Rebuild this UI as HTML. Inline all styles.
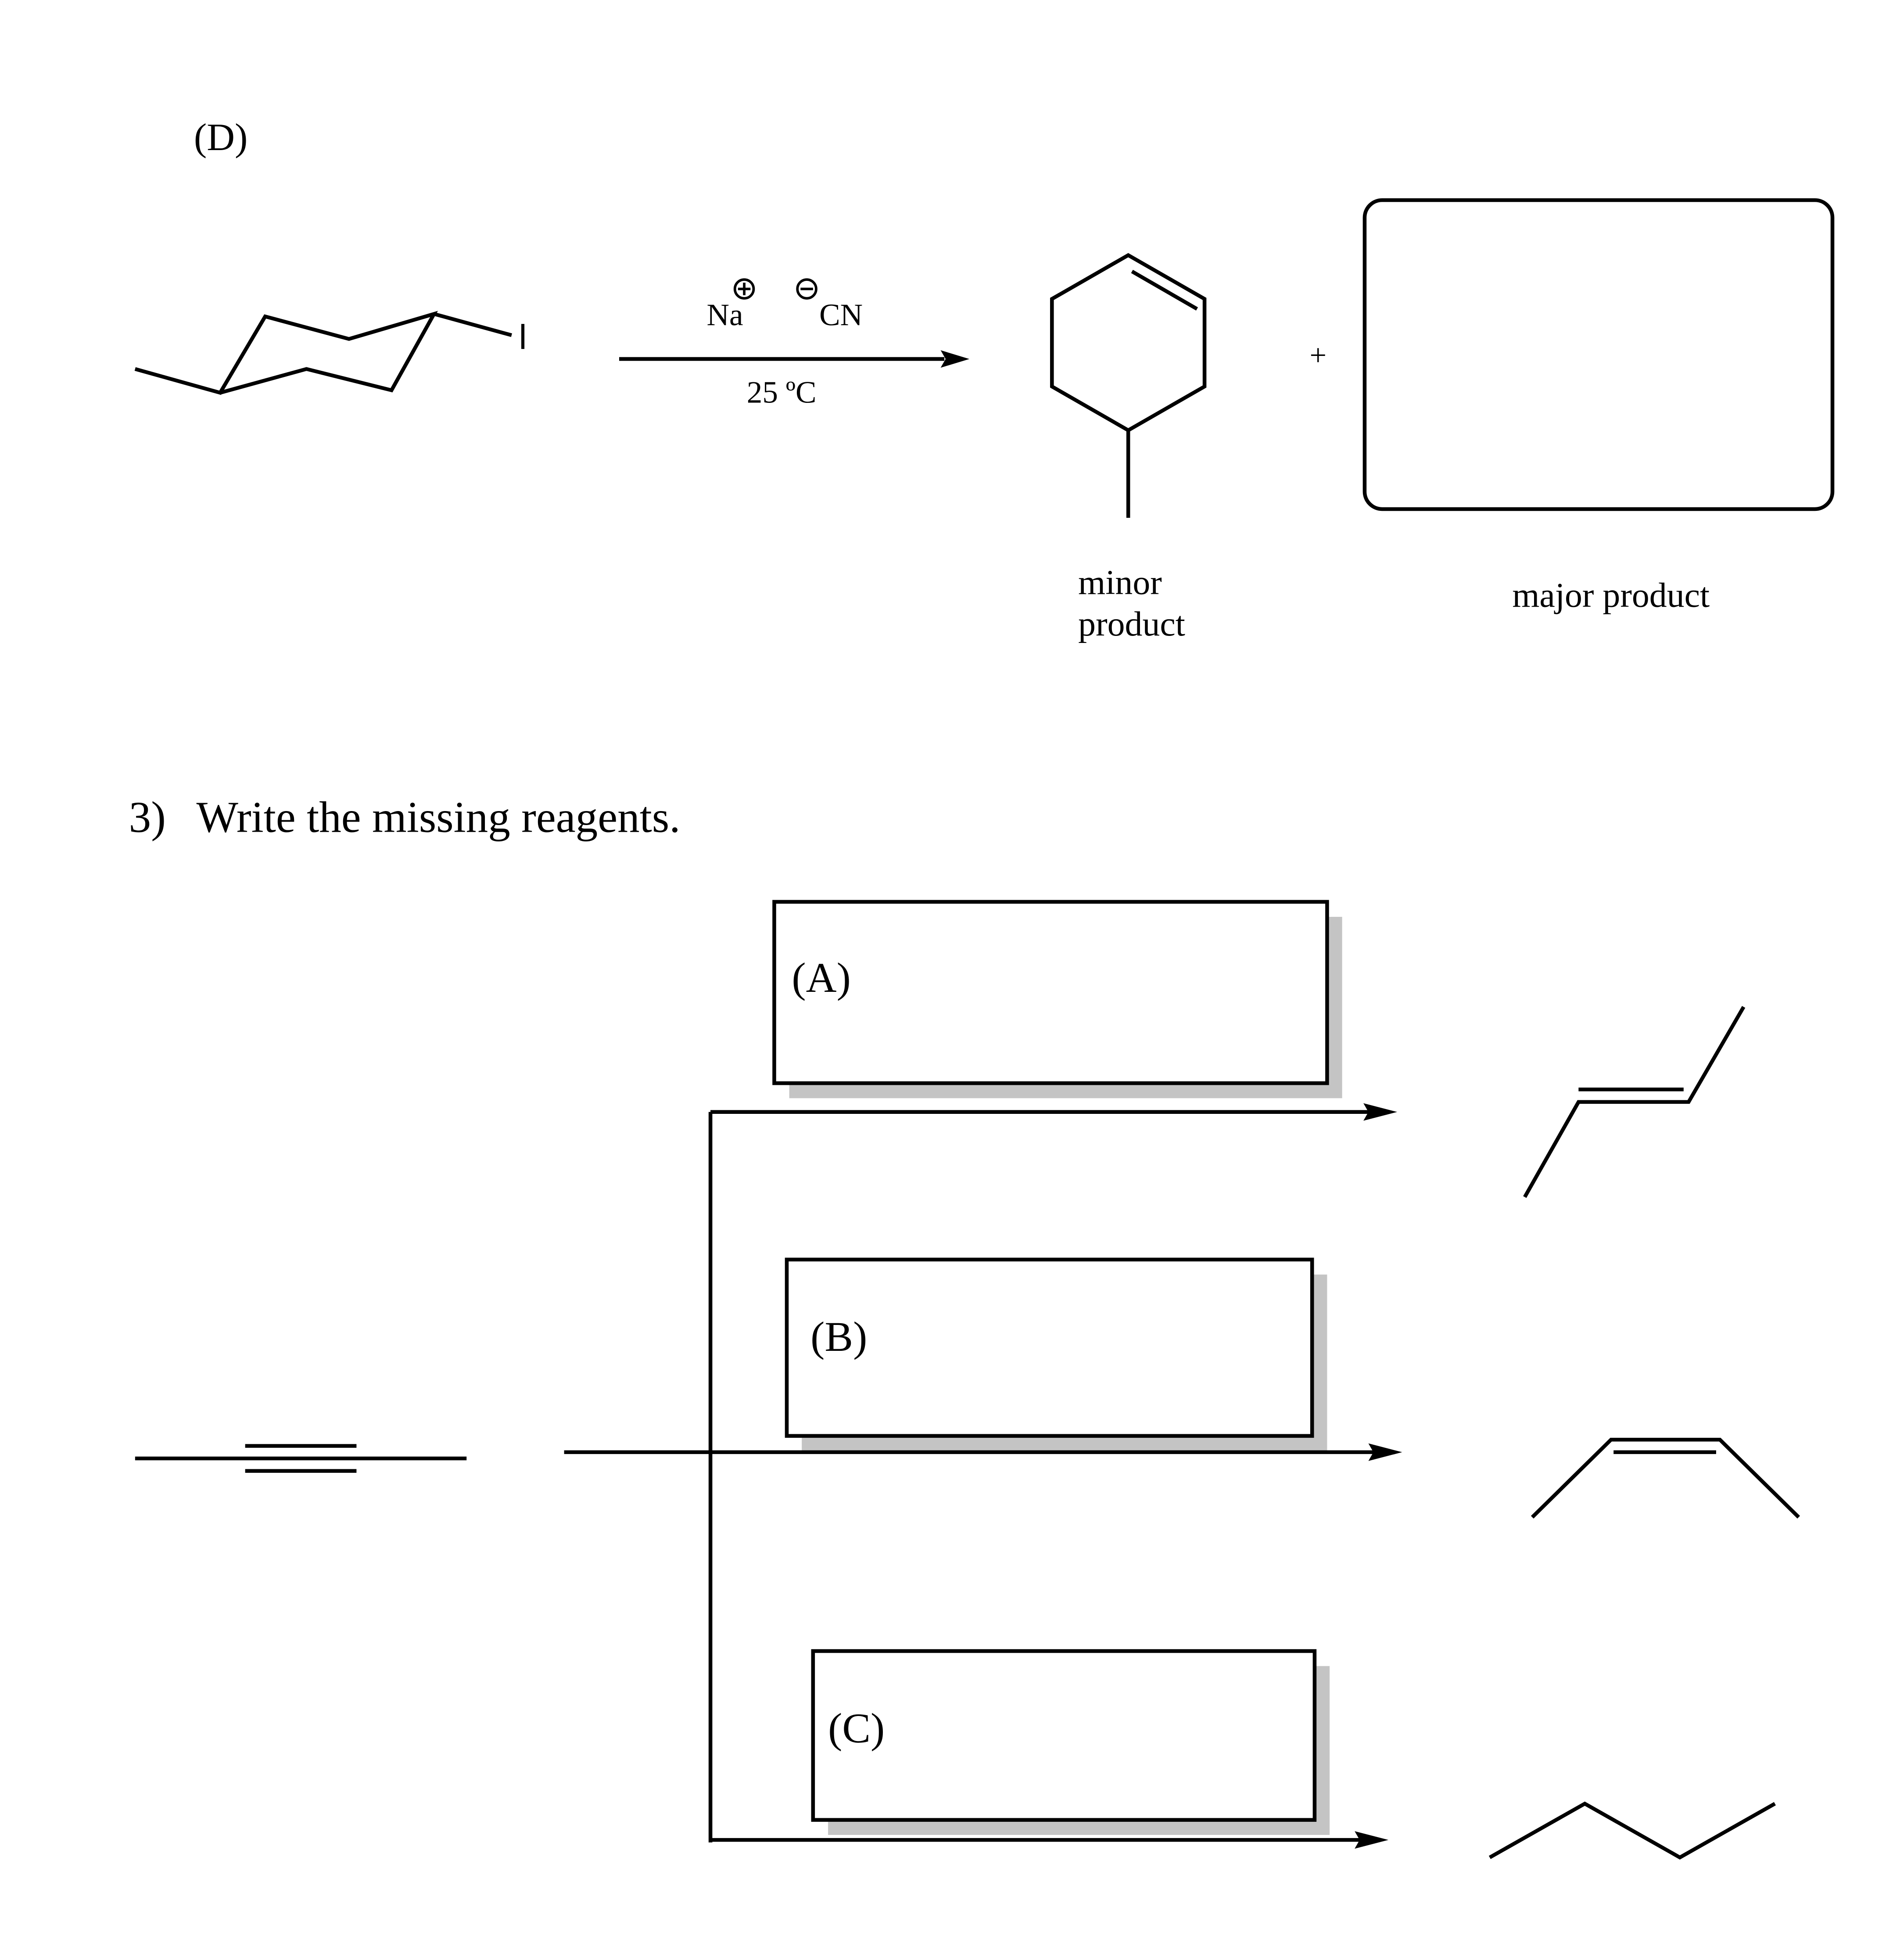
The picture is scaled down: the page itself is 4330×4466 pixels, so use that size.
<!DOCTYPE html>
<html><head><meta charset="utf-8"><style>
html,body{margin:0;padding:0;background:#fff;}
svg{display:block;}
text{font-family:"Liberation Serif",serif;fill:#000;}
</style></head><body>
<svg width="4330" height="4466" viewBox="0 0 1519 1567" preserveAspectRatio="none" xmlns="http://www.w3.org/2000/svg">
<g stroke="#000" stroke-width="3" fill="none" stroke-linejoin="miter">
<text x="155" y="120" font-size="31" stroke="none">(D)</text>
<polyline points="108,295 176,314 212,253 279,271 347,251 313,312 245,295 176,314"/>
<line x1="347" y1="251" x2="409" y2="268"/>
<line x1="418" y1="259" x2="418" y2="279" stroke-width="2.5"/>
<line x1="495" y1="287" x2="755" y2="287"/>
<path d="M775,287 L752,280 L756,287 L752,294 Z" fill="#000" stroke="none"/>
<text x="565" y="260" font-size="25" stroke="none">Na</text>
<circle cx="595" cy="231" r="7.5" stroke-width="2"/>
<line x1="590" y1="231" x2="600" y2="231" stroke-width="2"/><line x1="595" y1="226" x2="595" y2="236" stroke-width="2"/>
<circle cx="645" cy="231" r="7.5" stroke-width="2"/>
<line x1="640" y1="231" x2="650" y2="231" stroke-width="2"/>
<text x="655" y="260" font-size="25" stroke="none">CN</text>
<text x="597" y="322" font-size="25" stroke="none">25 ºC</text>
<polygon points="902,204 963,239 963,309 902,344 841,309 841,239"/>
<line x1="905" y1="217" x2="957" y2="247"/>
<line x1="902" y1="344" x2="902" y2="414"/>
<text x="1047" y="292" font-size="24" stroke="none">+</text>
<rect x="1091" y="160" width="374" height="247" rx="14" ry="14"/>
<text x="862" y="475" font-size="28" stroke="none">minor</text>
<text x="862" y="508" font-size="28" stroke="none">product</text>
<text x="1209" y="485" font-size="28" stroke="none">major product</text>
<text x="103" y="665" font-size="35.5" stroke="none">3)</text>
<text x="157" y="665" font-size="35.5" stroke="none">Write the missing reagents.</text>
<rect x="631" y="733" width="442" height="145" fill="#c4c4c4" stroke="none"/>
<rect x="619" y="721" width="442" height="145" fill="#fff"/>
<text x="633" y="793" font-size="34" stroke="none">(A)</text>
<rect x="641" y="1019" width="420" height="141" fill="#c4c4c4" stroke="none"/>
<rect x="629" y="1007" width="420" height="141" fill="#fff"/>
<text x="648" y="1080" font-size="34" stroke="none">(B)</text>
<rect x="662" y="1332" width="401" height="135" fill="#c4c4c4" stroke="none"/>
<rect x="650" y="1320" width="401" height="135" fill="#fff"/>
<text x="662" y="1393" font-size="34" stroke="none">(C)</text>
<line x1="568" y1="889" x2="568" y2="1473"/>
<line x1="568" y1="889" x2="1097" y2="889"/>
<path d="M1117,889 L1090,882 L1094,889 L1090,896 Z" fill="#000" stroke="none"/>
<line x1="451" y1="1161" x2="1101" y2="1161"/>
<path d="M1121,1161 L1094,1154 L1098,1161 L1094,1168 Z" fill="#000" stroke="none"/>
<line x1="568" y1="1471" x2="1090" y2="1471"/>
<path d="M1110,1471 L1083,1464 L1087,1471 L1083,1478 Z" fill="#000" stroke="none"/>
<line x1="108" y1="1166" x2="373" y2="1166"/>
<line x1="196" y1="1156" x2="285" y2="1156"/>
<line x1="196" y1="1176" x2="285" y2="1176"/>
<polyline points="1219,957 1262,881 1350,881 1394,805"/>
<line x1="1262" y1="871" x2="1346" y2="871"/>
<polyline points="1225,1213 1288,1151 1375,1151 1438,1213"/>
<line x1="1290" y1="1161" x2="1372" y2="1161"/>
<polyline points="1191,1485 1267,1442 1343,1485 1419,1442"/>
</g>
</svg>
</body></html>
